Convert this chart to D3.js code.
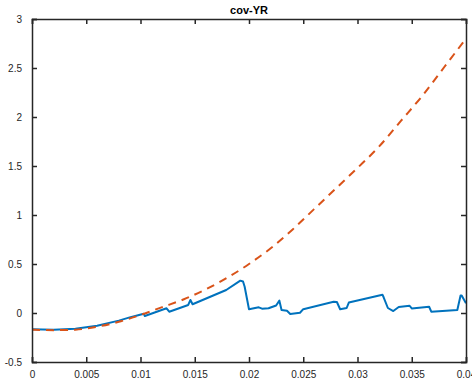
<!DOCTYPE html>
<html>
<head>
<meta charset="utf-8">
<script src="https://cdn.jsdelivr.net/npm/d3@7"></script>
<style>
  body { margin: 0; background: #fff; }
  text { font-family: "Liberation Sans", Arial, sans-serif; }
</style>
</head>
<body>
<script>
// Data
let xTicks = [0, 0.005, 0.01, 0.015, 0.02, 0.025, 0.03, 0.035, 0.04];
let yTicks = [-0.5, 0, 0.5, 1, 1.5, 2, 2.5, 3];

let estX = [0, 0.002, 0.004, 0.006, 0.008, 0.009, 0.0103, 0.0104, 0.0124, 0.01265, 0.0144, 0.0146, 0.0148,
  0.0179, 0.0192, 0.01945, 0.0196, 0.02, 0.0209, 0.0212, 0.0218, 0.0225, 0.0228, 0.0230, 0.0235, 0.0238,
  0.0247, 0.025, 0.0278, 0.0281, 0.0284, 0.029, 0.0292, 0.0323, 0.0324, 0.0328, 0.0333, 0.0338, 0.0348,
  0.035, 0.0366, 0.0368, 0.0392, 0.0395, 0.0396, 0.04];
let estY = [-0.165, -0.17, -0.16, -0.13, -0.078, -0.045, -0.008, -0.031, 0.048, 0.013, 0.082, 0.133, 0.089,
  0.235, 0.33, 0.321, 0.268, 0.038, 0.058, 0.044, 0.048, 0.077, 0.126, 0.031, 0.023, -0.01,
  0.003, 0.039, 0.115, 0.112, 0.038, 0.051, 0.107, 0.187, 0.163, 0.051, 0.02, 0.061, 0.074,
  0.046, 0.064, 0.013, 0.031, 0.179, 0.179, 0.10];

let refX = [0, 0.002, 0.004, 0.006, 0.008, 0.01, 0.012, 0.014, 0.016, 0.018, 0.02,
  0.022, 0.024, 0.026, 0.028, 0.03, 0.032, 0.034, 0.036, 0.038, 0.04];
let refY = [-0.17, -0.175, -0.17, -0.14, -0.09, -0.02, 0.06, 0.14, 0.24, 0.36, 0.5,
  0.66, 0.85, 1.06, 1.27, 1.48, 1.7, 1.96, 2.22, 2.51, 2.8];

let width = 472, height = 383;
let margin = { top: 19, right: 6, bottom: 21, left: 32 };

let svg = d3.select('body')
  .append('svg')
  .attr('width', width)
  .attr('height', height);

let xScale = d3.scaleLinear()
  .domain([0, 0.04])
  .range([margin.left, width - margin.right]);

let yScale = d3.scaleLinear()
  .domain([-0.5, 3])
  .range([height - margin.bottom, margin.top]);

let axisColor = '#262626';

// lines
let clip = svg.append('clipPath').attr('id', 'clip')
  .append('rect')
  .attr('x', margin.left).attr('y', margin.top)
  .attr('width', width - margin.left - margin.right)
  .attr('height', height - margin.top - margin.bottom);

let line = d3.line()
  .x(d => xScale(d[0]))
  .y(d => yScale(d[1]));

let lineRef = d3.line()
  .curve(d3.curveMonotoneX)
  .x(d => xScale(d[0]))
  .y(d => yScale(d[1]));

svg.append('path')
  .datum(estX.map((x, i) => [x, estY[i]]))
  .attr('clip-path', 'url(#clip)')
  .attr('fill', 'none')
  .attr('stroke', '#0072BD')
  .attr('stroke-width', 2)
  .attr('stroke-linejoin', 'round')
  .attr('d', line);

svg.append('path')
  .datum(refX.map((x, i) => [x, refY[i]]))
  .attr('clip-path', 'url(#clip)')
  .attr('fill', 'none')
  .attr('stroke', '#D95319')
  .attr('stroke-width', 2)
  .attr('stroke-dasharray', '8,6')
  .attr('d', lineRef);

// axes (ticks inward, box)
let xAxis = svg.append('g')
  .attr('transform', `translate(0,${height - margin.bottom})`)
  .call(d3.axisBottom(xScale).tickValues(xTicks).tickSize(-5).tickPadding(9).tickFormat(d => String(d)));

let xAxisTop = svg.append('g')
  .attr('transform', `translate(0,${margin.top})`)
  .call(d3.axisTop(xScale).tickValues(xTicks).tickSize(-5).tickFormat(''));

let yAxis = svg.append('g')
  .attr('transform', `translate(${margin.left},0)`)
  .call(d3.axisLeft(yScale).tickValues(yTicks).tickSize(-5).tickPadding(10).tickFormat(d => String(d)));

let yAxisRight = svg.append('g')
  .attr('transform', `translate(${width - margin.right},0)`)
  .call(d3.axisRight(yScale).tickValues(yTicks).tickSize(-5).tickFormat(''));

svg.selectAll('.domain')
  .attr('stroke', axisColor)
  .attr('stroke-width', 1.5);
svg.selectAll('.tick line')
  .attr('stroke', axisColor)
  .attr('stroke-width', 1.5);
svg.selectAll('.tick text')
  .attr('fill', axisColor)
  .style('font-size', '10px');

// title
svg.append('text')
  .attr('x', (margin.left + width - margin.right) / 2)
  .attr('y', 14)
  .attr('text-anchor', 'middle')
  .style('font-size', '11px')
  .style('font-weight', 'bold')
  .attr('fill', '#000')
  .text('cov-YR');
</script>
</body>
</html>
